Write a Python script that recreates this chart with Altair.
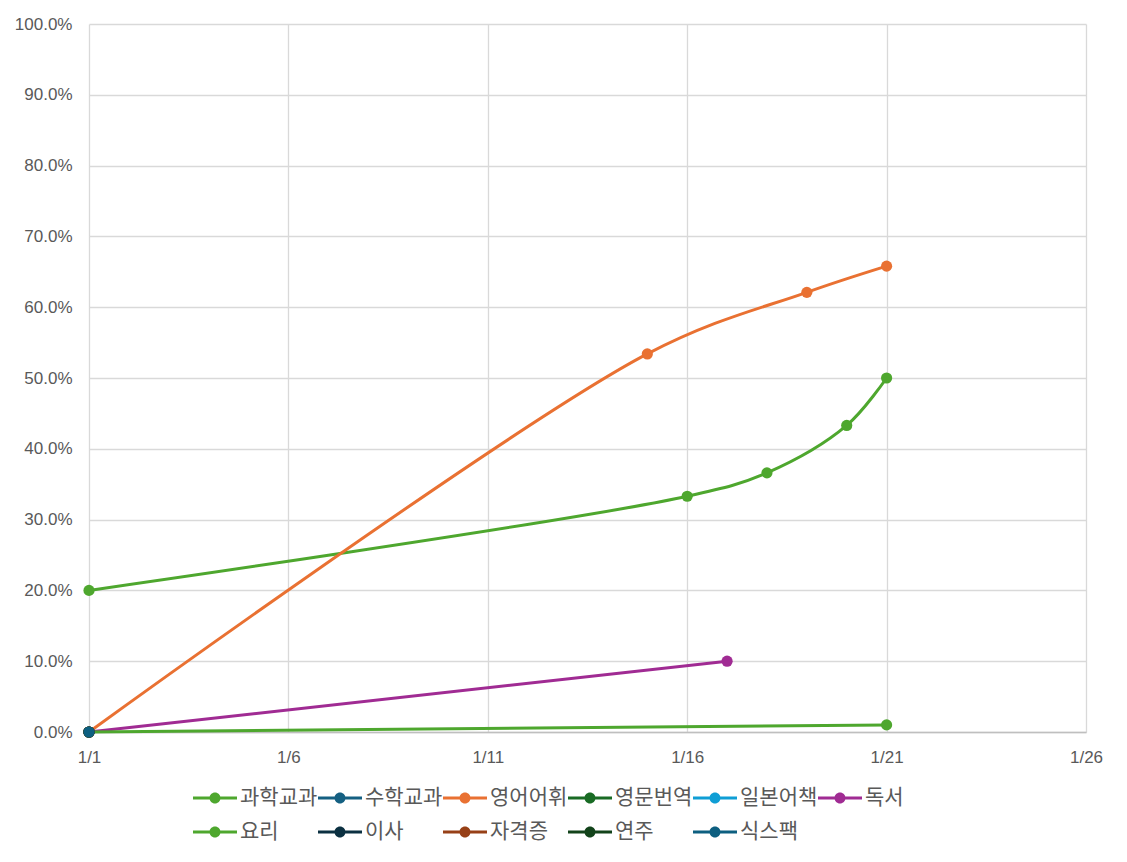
import altair as alt
import pandas as pd

# ---- data ----
series = ["과학교과", "수학교과", "영어어휘", "영문번역", "일본어책", "독서",
          "요리", "이사", "자격증", "연주", "식스팩"]
colors = ["#4EA72E", "#156082", "#E97132", "#196B24", "#0F9ED5", "#A02B93",
          "#4EA72E", "#0B3041", "#974017", "#12431A", "#0D5F80"]

science_days = [1, 16, 18, 20, 21]
science_vals = [0.20, 0.333, 0.366, 0.433, 0.50]
math_days = [1]
math_vals = [0.0]
english_days = [1, 15, 19, 21]
english_vals = [0.0, 0.534, 0.621, 0.658]
translate_days = [1]
translate_vals = [0.0]
japanese_days = [1]
japanese_vals = [0.0]
reading_days = [1, 17]
reading_vals = [0.0, 0.10]
cooking_days = [1, 21]
cooking_vals = [0.0, 0.01]
moving_days = [1]
moving_vals = [0.0]
license_days = [1]
license_vals = [0.0]
music_days = [1]
music_vals = [0.0]
sixpack_days = [1]
sixpack_vals = [0.0]

x_ticks = [1, 6, 11, 16, 21, 26]
y_ticks = [0.0, 0.1, 0.2, 0.3, 0.4, 0.5, 0.6, 0.7, 0.8, 0.9, 1.0]

all_days = [science_days, math_days, english_days, translate_days, japanese_days,
            reading_days, cooking_days, moving_days, license_days, music_days, sixpack_days]
all_vals = [science_vals, math_vals, english_vals, translate_vals, japanese_vals,
            reading_vals, cooking_vals, moving_vals, license_vals, music_vals, sixpack_vals]

rows = []
for i, (name, ds, vs) in enumerate(zip(series, all_days, all_vals)):
    for d, v in zip(ds, vs):
        rows.append({"series": name, "day": d, "value": v, "idx": i})
df = pd.DataFrame(rows)

# legend glyph: a short line with a dot in its middle
legend_path = ("M-1,-0.13L3,-0.13L3,0.13L-1,0.13Z "
               "M0.5,0A0.5,0.5 0 1,1 1.5,0A0.5,0.5 0 1,1 0.5,0Z")

x_enc = alt.X("day:Q",
              scale=alt.Scale(domain=[1, 26], nice=False, zero=False),
              axis=alt.Axis(values=x_ticks, labelExpr="'1/' + datum.value", title=None,
                            grid=True, ticks=False, tickSize=0, labelPadding=17,
                            labelFlush=False,
                            domainColor="#bfbfbf", domainWidth=1.6))
y_enc = alt.Y("value:Q",
              scale=alt.Scale(domain=[0, 1], nice=False),
              axis=alt.Axis(values=y_ticks, format=".1%", title=None, domain=False,
                            ticks=False, tickSize=0, labelPadding=17, labelFlush=False))

# stroke scale gets an extra unused entry so its legend is not merged with the fill legend
lines = alt.Chart(df).mark_line(interpolate="catmull-rom", strokeWidth=3).encode(
    x=x_enc, y=y_enc,
    stroke=alt.Stroke("series:N",
                      scale=alt.Scale(domain=series + ["_"], range=colors + ["#000000"]),
                      legend=None),
    detail="series:N",
)

points = alt.Chart(df).mark_point(filled=True, size=125, opacity=1, strokeWidth=0).encode(
    x=x_enc, y=y_enc,
    fill=alt.Fill("series:N", scale=alt.Scale(domain=series, range=colors),
                  legend=alt.Legend(title=None, orient="none", legendX=104, legendY=763,
                                    columns=6, direction="horizontal",
                                    symbolType=legend_path, symbolSize=484,
                                    symbolStrokeWidth=0, symbolOpacity=1,
                                    labelOffset=25, columnPadding=0, rowPadding=13,
                                    labelFont="Noto Sans CJK KR", labelFontSize=21,
                                    labelColor="#595959", padding=0)),
)

chart = alt.layer(lines, points).properties(
    width=997, height=708,
    autosize=alt.AutoSizeParams(type="none"),
    padding={"left": 81, "top": 16, "right": 33, "bottom": 122},
).configure_view(stroke=None).configure_axis(
    labelColor="#595959", labelFont="Liberation Sans", labelFontSize=17,
    gridColor="#d9d9d9", gridWidth=1.3,
)

chart.save("out.html", embed_options={"renderer": "svg", "actions": False})
